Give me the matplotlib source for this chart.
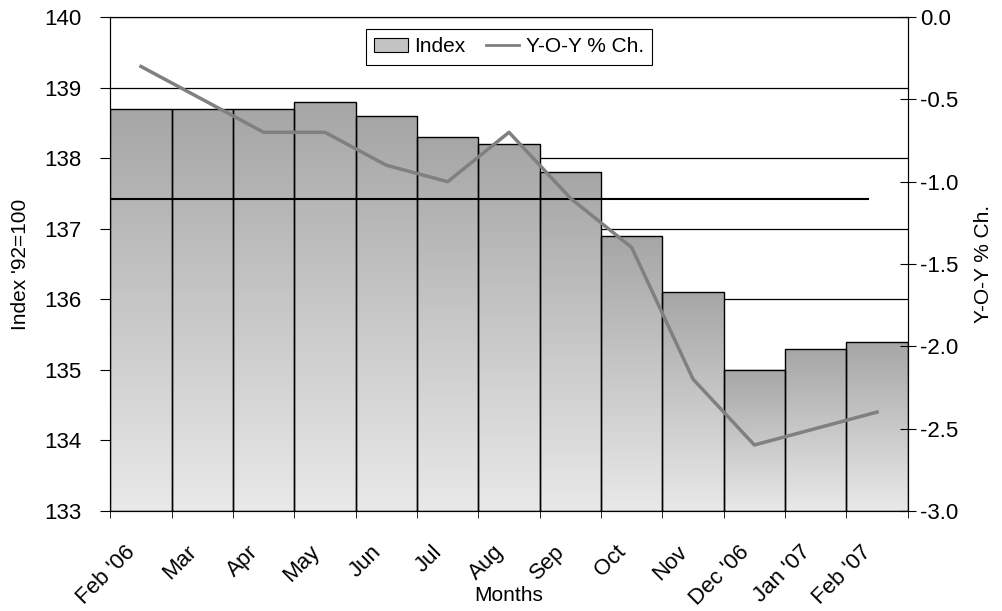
import numpy as np
import matplotlib.pyplot as plt
import matplotlib.transforms as mtransforms
from matplotlib.patches import Patch
from matplotlib.lines import Line2D

plt.rcParams["font.family"] = ["Liberation Sans", "DejaVu Sans"]

months = ["Feb '06", "Mar", "Apr", "May", "Jun", "Jul", "Aug", "Sep",
          "Oct", "Nov", "Dec '06", "Jan '07", "Feb '07"]
index = [138.7, 138.7, 138.7, 138.8, 138.6, 138.3, 138.2, 137.8,
         136.9, 136.1, 135.0, 135.3, 135.4]
yoy = [-0.3, -0.5, -0.7, -0.7, -0.9, -1.0, -0.7, -1.1,
       -1.4, -2.2, -2.6, -2.5, -2.4]

x = np.arange(len(months))

fig, ax = plt.subplots(figsize=(10.03, 6.11), dpi=100)
fig.subplots_adjust(left=0.11, right=0.905, top=0.972, bottom=0.164)

ax.yaxis.grid(True, color="black", lw=0.9)
ax.set_axisbelow(True)

# bars with vertical gradient (dark top, light bottom)
bars = ax.bar(x, [v - 133 for v in index], bottom=133, width=1.0,
              facecolor="none", edgecolor="black", lw=1, zorder=3)
grad = np.linspace(0, 1, 256).reshape(-1, 1)
cmap = plt.matplotlib.colors.LinearSegmentedColormap.from_list("g", ["#e9e9e9", "#a6a6a6"])
for b in bars:
    x0, y0 = b.get_x(), b.get_y()
    im = ax.imshow(grad, extent=[x0, x0 + b.get_width(), y0, y0 + b.get_height()],
                   origin="lower", aspect="auto", cmap=cmap, zorder=2)
    im.set_clip_path(b)
ax.set_xlim(-0.5, len(months) - 0.5)
ax.set_ylim(133, 140)
ax.set_yticks(range(133, 141))

# average line
avg = np.mean(index)
ax.axhline(avg, xmin=0, xmax=0.95, color="black", lw=1.5, zorder=4)

ax.set_xticks(x)
ax.set_xticklabels(months, rotation=45, ha="right", rotation_mode="anchor")
ax.set_xticks(np.arange(-0.5, len(months)), minor=True)
ax.tick_params(axis="x", which="major", length=0, pad=22, labelsize=16)
ax.tick_params(axis="x", which="minor", direction="inout", length=10)
ax.tick_params(axis="y", direction="out", length=7, labelsize=16, pad=14)
ax.set_xlabel("Months", fontsize=15)
ax.xaxis.set_label_coords(0.5, -0.153)
ax.set_ylabel("Index '92=100", fontsize=15, labelpad=10)

ax2 = ax.twinx()
ax2.plot(x, yoy, color="#808080", lw=2.5, zorder=5)
ax2.set_ylim(-3.0, 0.0)
ax2.set_yticks(np.arange(-3.0, 0.01, 0.5))
ax2.set_yticklabels([f"{v:.1f}" for v in np.arange(-3.0, 0.01, 0.5)])
ax2.tick_params(axis="y", direction="inout", length=12, labelsize=16, pad=3)
ax2.set_ylabel("Y-O-Y % Ch.", fontsize=15, labelpad=11)

handles = [Patch(facecolor="#c4c4c4", edgecolor="black", lw=0.8),
           Line2D([0], [0], color="#808080", lw=2)]
leg = ax2.legend(handles, ["Index", "Y-O-Y % Ch."], loc="upper center", ncol=2,
                 bbox_to_anchor=(0.5, 0.997), fontsize=15, fancybox=False,
                 edgecolor="black", framealpha=1, handlelength=1.6,
                 columnspacing=1.0, handletextpad=0.3, borderpad=0.4)
leg.get_frame().set_linewidth(0.8)

# nudge the rotated month labels left
shift = mtransforms.ScaledTranslation(-16 / 100, 0, fig.dpi_scale_trans)
for lbl in ax.get_xticklabels():
    lbl.set_transform(lbl.get_transform() + shift)

plt.savefig("out.png")
